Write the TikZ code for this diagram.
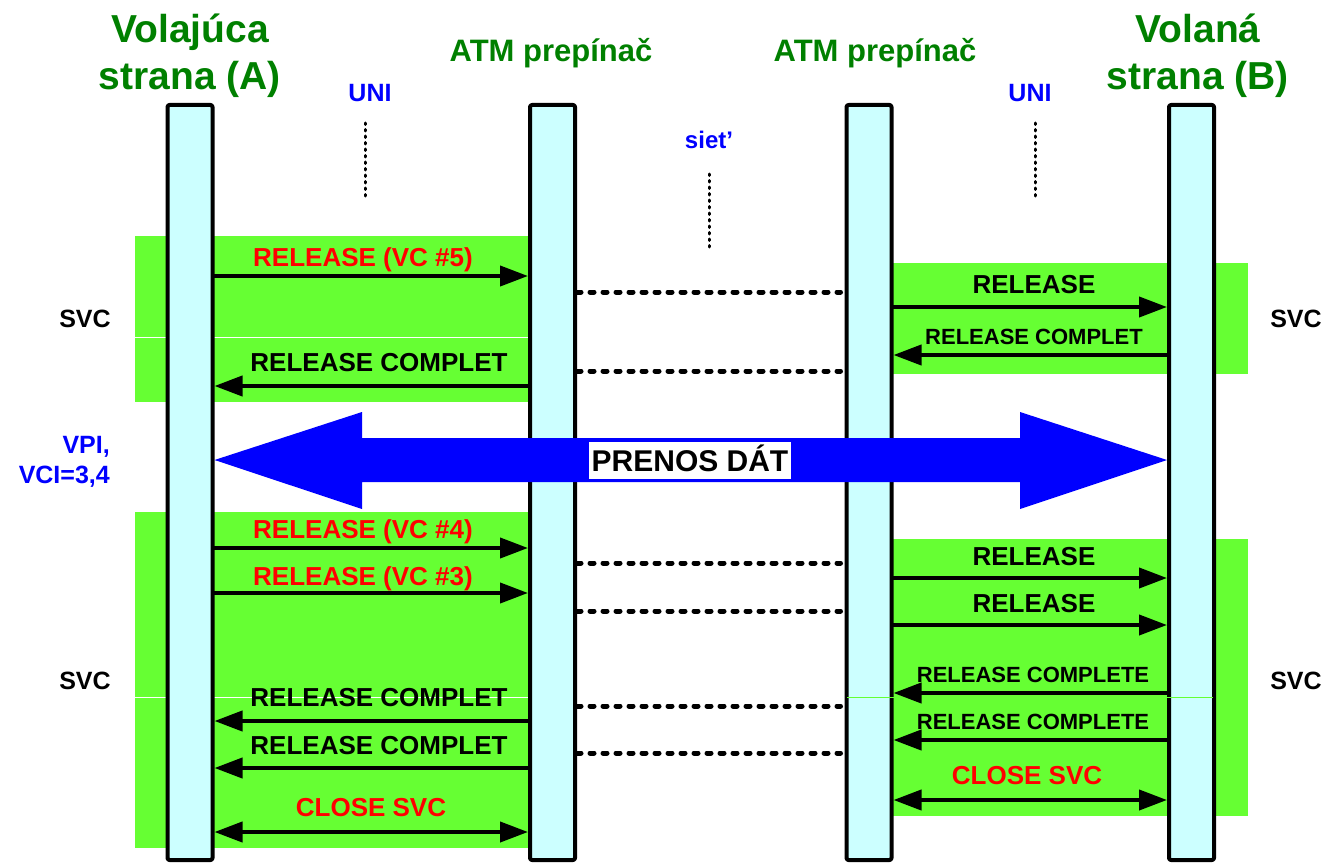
\documentclass[tikz,border=0pt]{standalone}
\usepackage{fontspec}
\setmainfont{Liberation Sans}
\usetikzlibrary{arrows.meta}
\definecolor{svcgreen}{RGB}{102,255,51}
\definecolor{lifecyan}{RGB}{204,255,255}
\definecolor{darkgreen}{RGB}{0,128,0}
\tikzset{
  lifeline/.style={draw, line width=4pt, fill=lifecyan, rounded corners=2pt, minimum width=45pt, minimum height=755pt, inner sep=0pt},
  msg/.style={line width=4pt, -{Triangle[length=28pt,width=20pt]}},
  bimsg/.style={line width=4pt, {Triangle[length=28pt,width=20pt]}-{Triangle[length=28pt,width=20pt]}},
  netdots/.style={line width=5pt, dash pattern=on 4pt off 9pt, shorten >=4pt},
  unidots/.style={line width=3pt, dash pattern=on 1.5pt off 5pt},
  lbl/.style={inner sep=0pt, text height=18.6pt, text depth=0pt, font=\fontsize{26}{30}\selectfont\bfseries},
  lblsmall/.style={inner sep=0pt, text height=15.8pt, text depth=0pt, font=\fontsize{22}{26}\selectfont\bfseries},
  heading/.style={anchor=base, inner sep=0pt, text=darkgreen, font=\fontsize{39}{46}\selectfont\bfseries},
  switchname/.style={anchor=base, inner sep=0pt, text=darkgreen, font=\fontsize{31}{36}\selectfont\bfseries},
  side/.style={anchor=base, inner sep=0pt, font=\fontsize{25}{30}\selectfont\bfseries}
}

\begin{document}
\begin{tikzpicture}[line cap=round,line join=round, x=1pt,y=-1pt]
\useasboundingbox (0,0) rectangle (1328,864);
% SVC blocks
\fill[svcgreen] (135,236) rectangle (530,402);
\fill[svcgreen] (890,263) rectangle (1248,374);
\fill[svcgreen] (135,512) rectangle (530,848);
\fill[svcgreen] (890,539) rectangle (1248,816);
\draw[white, line width=1pt, line cap=butt] (135,337) -- (528,337);
\draw[white, line width=1pt, line cap=butt] (135,697) -- (528,697);
% lifelines
\node[lifeline] (A) at (190,482.5) {};
\node[lifeline] (S1) at (552.5,482.5) {};
\node[lifeline] (S2) at (869,482.5) {};
\node[lifeline] (B) at (1191.5,482.5) {};
\draw[svcgreen, line width=0.8pt, line cap=butt] (847,697) -- (1213,697);
% headings
\node[heading] (callerA) at (190,43) {Volajúca};
\node[heading] (callerB) at (190,90) {strana (A)};
\node[switchname] (sw1) at (551,62) {ATM prepínač};
\node[switchname] (sw2) at (875,62) {ATM prepínač};
\node[heading] (calledA) at (1198,43) {Volaná};
\node[heading] (calledB) at (1198,90) {strana (B)};
\node[side, text=blue] (uniA) at (370,102) {UNI};
\node[side, text=blue] (uniB) at (1030,102) {UNI};
\node[anchor=base, inner sep=0pt, text=blue, font=\fontsize{24}{28}\selectfont\bfseries] (net) at (709,149) {siet’};
\draw[unidots] (365,123) -- (365,198);
\draw[unidots] (1035,123) -- (1035,198);
\draw[unidots] (709,174) -- (709,249);
% side labels
\node[side] (svc1) at (85,327) {SVC};
\node[side] (svc2) at (1296,327) {SVC};
\node[side] (svc3) at (85,689) {SVC};
\node[side] (svc4) at (1296,689) {SVC};
\node[side, text=blue, anchor=base east] (vpi) at (110,453) {VPI,};
\node[side, text=blue, anchor=base east] (vci) at (110,483) {VCI=3,4};
% network links
\foreach \y in {292,371,563,611,706,753}
  \draw[netdots] (S1.east |- 0,\y) -- (S2.west |- 0,\y);
% release of VC #5
\draw[msg] (A.east |- 0,276) -- (S1.west |- 0,276);
\node[lbl, text=red] (rel5) at (363,257) {RELEASE (VC \#5)};
\draw[msg] (S1.west |- 0,386) -- (A.east |- 0,386);
\node[lbl] (cmp5) at (379,362.5) {RELEASE COMPLET};
\draw[msg] (S2.east |- 0,307) -- (B.west |- 0,307);
\node[lbl] (rel5b) at (1034,284) {RELEASE};
\draw[msg] (B.west |- 0,355) -- (S2.east |- 0,355);
\node[lblsmall] (cmp5b) at (1034,337) {RELEASE COMPLET};
% data transfer
\fill[blue] (A.east |- 0,460) -- (362,412) -- (362,438) -- (1020,438) -- (1020,412)
  -- (B.west |- 0,460) -- (1020,509) -- (1020,482) -- (362,482) -- (362,509) -- cycle;
\node[fill=white, inner xsep=3pt, inner ysep=7.75pt, text height=21.5pt, text depth=0pt,
  font=\fontsize{30}{36}\selectfont\bfseries] (data) at (690,460.5) {PRENOS DÁT};
% release of VC #4 and #3
\draw[msg] (A.east |- 0,548) -- (S1.west |- 0,548);
\node[lbl, text=red] (rel4) at (363,529) {RELEASE (VC \#4)};
\draw[msg] (A.east |- 0,593) -- (S1.west |- 0,593);
\node[lbl, text=red] (rel3) at (363,576) {RELEASE (VC \#3)};
\draw[msg] (S1.west |- 0,721) -- (A.east |- 0,721);
\node[lbl] (cmp4) at (379,697) {RELEASE COMPLET};
\draw[msg] (S1.west |- 0,768) -- (A.east |- 0,768);
\node[lbl] (cmp3) at (379,745) {RELEASE COMPLET};
\draw[bimsg] (A.east |- 0,832) -- (S1.west |- 0,832);
\node[lbl, text=red] (closeA) at (371,807) {CLOSE SVC};
\draw[msg] (S2.east |- 0,578) -- (B.west |- 0,578);
\node[lbl] (rel4b) at (1034,556) {RELEASE};
\draw[msg] (S2.east |- 0,625) -- (B.west |- 0,625);
\node[lbl] (rel3b) at (1034,603) {RELEASE};
\draw[msg] (B.west |- 0,693) -- (S2.east |- 0,693);
\node[lblsmall] (cmp4b) at (1033,675) {RELEASE COMPLETE};
\draw[msg] (B.west |- 0,740) -- (S2.east |- 0,740);
\node[lblsmall] (cmp3b) at (1033,722) {RELEASE COMPLETE};
\draw[bimsg] (S2.east |- 0,800) -- (B.west |- 0,800);
\node[lbl, text=red] (closeB) at (1027,775) {CLOSE SVC};
\end{tikzpicture}
\end{document}
